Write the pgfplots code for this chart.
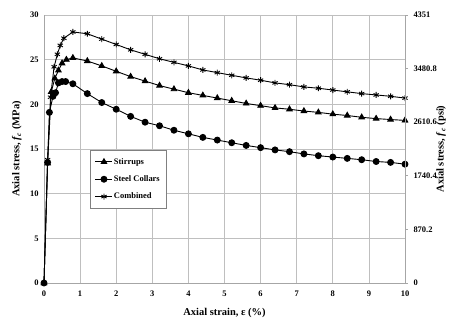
\documentclass[border=0pt]{standalone}
\usepackage{pgfplots}
\pgfplotsset{compat=1.18}
\usepackage{fontspec}
\setmainfont{Liberation Serif}
\begin{document}
\begin{tikzpicture}
\useasboundingbox (0bp,0bp) rectangle (454bp,323bp);
\begin{axis}[
  scale only axis, width=361bp, height=268bp,
  /pgf/number format/assume math mode=true,
  tick label style={font=\bfseries\fontsize{8.5}{9}\selectfont},
  label style={font=\bfseries\fontsize{10.5}{12}\selectfont},
  at={(44bp,40bp)}, anchor=south west,
  xmin=0, xmax=10, ymin=0, ymax=30,
  xtick={0,1,...,10}, ytick={0,5,...,30},
  axis line style={draw=black!30, line width=0.9bp},
  major tick length=0pt,
  xticklabel style={yshift=-4pt},
  yticklabel style={xshift=-2pt},
  xlabel={Axial strain, ε (\%)},
  ylabel={Axial stress, \textit{f}\textsubscript{\textit{c}} (MPa)},
  xlabel style={at={(rel axis cs:0.5,-0.112)}, anchor=center},
  ylabel style={at={(rel axis cs:-0.075,0.5)}, anchor=center, rotate=0},
  legend style={at={(0.127,0.496)}, anchor=north west, draw=black!50, fill=white,
    font=\bfseries\fontsize{8.5}{10}\selectfont, row sep=8pt, inner xsep=5pt, inner ysep=7pt,
    nodes={inner sep=1pt}},
  legend cell align=left,
  clip=false,
]
% grid lines and frame
\pgfplotsinvokeforeach{1,2,3,4,5,6,7,8,9}{
  \addplot[black!25, line width=0.8bp, forget plot] coordinates {(#1,0) (#1,30)};
}
\pgfplotsinvokeforeach{5,10,15,20,25,30}{
  \addplot[black!25, line width=0.8bp, forget plot] coordinates {(0,#1) (10,#1)};
}
\addplot[black!35, line width=0.9bp, forget plot] coordinates {(0,30) (0,0) (10,0) (10,30)};
\pgfplotsinvokeforeach{0,6,12,18,24,30}{
  \addplot[black!35, line width=0.8bp, forget plot] coordinates {(10,#1) (10.09,#1)};
}
\addplot[black, line width=0.9pt, mark=triangle*, mark size=3.2pt] coordinates {
(0,0) (0.1,13.4) (0.2,21.4) (0.3,22.9) (0.4,23.8) (0.5,24.6) (0.62,25.0) (0.8,25.2)
(1.2,24.85) (1.6,24.3) (2.0,23.7) (2.4,23.1) (2.8,22.6) (3.2,22.1) (3.6,21.7) (4.0,21.3)
(4.4,21.0) (4.8,20.7) (5.2,20.4) (5.6,20.1) (6.0,19.85) (6.4,19.6) (6.8,19.45) (7.2,19.25)
(7.6,19.1) (8.0,18.9) (8.4,18.75) (8.8,18.55) (9.2,18.4) (9.6,18.3) (10.0,18.2)};
\addlegendentry{Stirrups}
\addplot[black, line width=0.9pt, mark=*, mark size=3pt] coordinates {
(0,0) (0.1,13.5) (0.15,19.1) (0.25,20.9) (0.32,21.3) (0.4,22.4) (0.5,22.55) (0.6,22.55) (0.8,22.3)
(1.2,21.2) (1.6,20.2) (2.0,19.45) (2.4,18.65) (2.8,18.0) (3.2,17.6) (3.6,17.1) (4.0,16.7)
(4.4,16.3) (4.8,16.0) (5.2,15.7) (5.6,15.4) (6.0,15.15) (6.4,14.9) (6.8,14.7) (7.2,14.45)
(7.6,14.25) (8.0,14.1) (8.4,13.95) (8.8,13.8) (9.2,13.6) (9.6,13.5) (10.0,13.3)};
\addlegendentry{Steel Collars}
\addplot[black, line width=0.9pt, mark=asterisk, mark size=3pt] coordinates {
(0,0) (0.1,13.8) (0.18,20.8) (0.28,24.2) (0.37,25.6) (0.45,26.6) (0.55,27.4) (0.8,28.1)
(1.2,27.9) (1.6,27.3) (2.0,26.7) (2.4,26.1) (2.8,25.6) (3.2,25.1) (3.6,24.7) (4.0,24.3)
(4.4,23.85) (4.8,23.55) (5.2,23.25) (5.6,22.96) (6.0,22.7) (6.4,22.4) (6.8,22.2) (7.2,21.95)
(7.6,21.8) (8.0,21.6) (8.4,21.4) (8.8,21.2) (9.2,21.05) (9.6,20.9) (10.0,20.7)};
\addlegendentry{Combined}
\end{axis}
\begin{axis}[
  scale only axis, width=361bp, height=268bp,
  /pgf/number format/assume math mode=true,
  tick label style={font=\bfseries\fontsize{8.5}{9}\selectfont},
  label style={font=\bfseries\fontsize{10.5}{12}\selectfont},
  at={(44bp,40bp)}, anchor=south west,
  xmin=0, xmax=10, ymin=0, ymax=4351,
  hide x axis,
  axis y line*=right,
  axis line style={draw=black!35, line width=0.9bp},
  ytick={0,870.2,1740.4,2610.6,3480.8,4351},
  yticklabels={0,870.2,1740.4,2610.6,3480.8,4351},
  major tick length=0pt,
  yticklabel style={xshift=5pt},
  ylabel={Axial stress, \textit{f}\textsubscript{\textit{c}} (psi)},
  ylabel style={at={(rel axis cs:1.1,0.5)}, anchor=center, rotate=0},
]
\addplot[draw=none] coordinates {(0,0)};
\end{axis}
\end{tikzpicture}
\end{document}
